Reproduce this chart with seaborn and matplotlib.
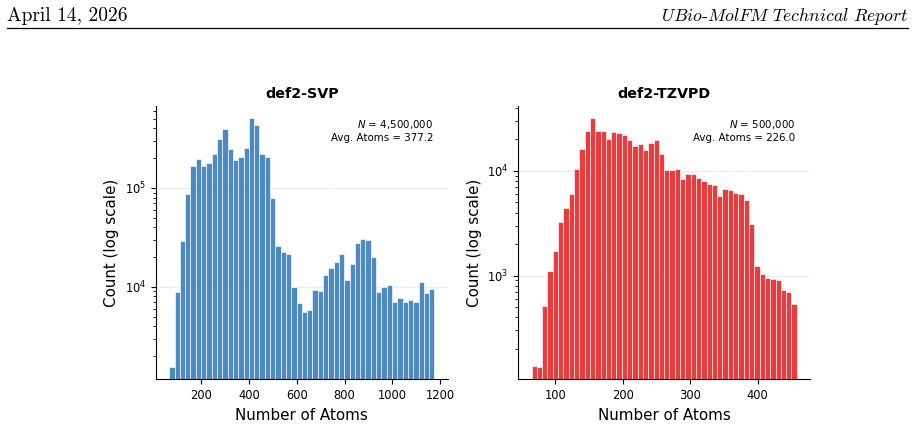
import numpy as np
import pandas as pd
import matplotlib.pyplot as plt
import seaborn as sns
from matplotlib.lines import Line2D

# bar heights, 50 equal bins each
svp_counts = [1553, 8900, 29200, 87000, 166000, 196000, 167000, 178000, 222000, 311000,
              393000, 245000, 191000, 206000, 253000, 505000, 430000, 219000, 208000, 78700,
              26200, 22600, 21700, 10000, 6850, 5620, 5800, 9400, 9040, 13100,
              15500, 18000, 21300, 11750, 16900, 27900, 30700, 29500, 20000, 8910,
              10000, 10550, 7070, 7690, 7070, 7400, 7110, 11140, 8770, 9550]
svp_range = (65, 1177)

tzvpd_counts = [138, 134, 514, 1117, 1730, 3270, 4410, 6040, 10370, 16200,
                23900, 31800, 23900, 24000, 20300, 23500, 23200, 22300, 19600, 17300,
                18100, 16000, 18700, 19900, 14600, 10200, 10200, 10500, 8460, 9360,
                9360, 8640, 7980, 7580, 7300, 5820, 6740, 6550, 6170, 6040,
                5300, 3100, 1245, 1045, 957, 923, 910, 730, 699, 537]
tzvpd_range = (65, 458)

titles = ['def2-SVP', 'def2-TZVPD']
n_mols = ['4,500,000', '500,000']
avg_atoms = [377.2, 226.0]
colors = ['#2F76B8', '#E41A1C']

fig = plt.figure(figsize=(9.15, 4.25), dpi=100)
W, H = 915, 425

# page header
fig.text(7 / W, 1 - 21 / H, 'April 14, 2026', family='cmr10', fontsize=14, va='baseline')
fig.text(908 / W, 1 - 21 / H, r'$\mathit{UBio}$-$\mathit{MolFM\ Technical\ Report}$',
         family='cmr10', math_fontfamily='cm', fontsize=12.8, ha='right', va='baseline')
fig.add_artist(Line2D([7 / W, 908 / W], [1 - 28 / H, 1 - 28 / H], color='black', lw=0.9))

ax_left = fig.add_axes([156 / W, 1 - 379.3 / H, 291.7 / W, 273.3 / H])
ax_right = fig.add_axes([518.3 / W, 1 - 379.3 / H, 291.7 / W, 273.3 / H])

datasets = [(svp_counts, svp_range), (tzvpd_counts, tzvpd_range)]

for i, (ax, (counts, rng)) in enumerate(zip([ax_left, ax_right], datasets)):
    nb = len(counts)
    width = (rng[1] - rng[0]) / nb
    df = pd.DataFrame({'atoms': rng[0] + width * (np.arange(nb) + 0.5), 'count': counts})
    sns.histplot(data=df, x='atoms', weights='count', bins=nb, binrange=rng, ax=ax,
                 color=colors[i], edgecolor='white', linewidth=0.45, alpha=0.85)
    ax.set_yscale('log')
    lo, hi = np.log10(min(counts)), np.log10(max(counts))
    pad = 0.05 * (hi - lo)
    ax.set_ylim(10 ** (lo - pad), 10 ** (hi + pad))
    span = rng[1] - rng[0]
    ax.set_xlim(rng[0] - 0.05 * span, rng[1] + 0.05 * span)

    ax.set_title(titles[i], fontsize=10.3, fontweight='bold')
    ax.set_xlabel('Number of Atoms', fontsize=10.9)
    ax.set_ylabel('Count (log scale)', fontsize=10.9)
    ax.tick_params(axis='both', which='major', labelsize=8.3)
    ax.yaxis.grid(True, which='major', linestyle='--', linewidth=0.6, color='gray', alpha=0.25)
    ax.set_axisbelow(True)
    ax.text(0.95, 0.955, f'$N$ = {n_mols[i]}\nAvg. Atoms = {avg_atoms[i]:.1f}',
            transform=ax.transAxes, ha='right', va='top', fontsize=7.4)
    sns.despine(ax=ax)

fig.savefig('out.png', dpi=100)
